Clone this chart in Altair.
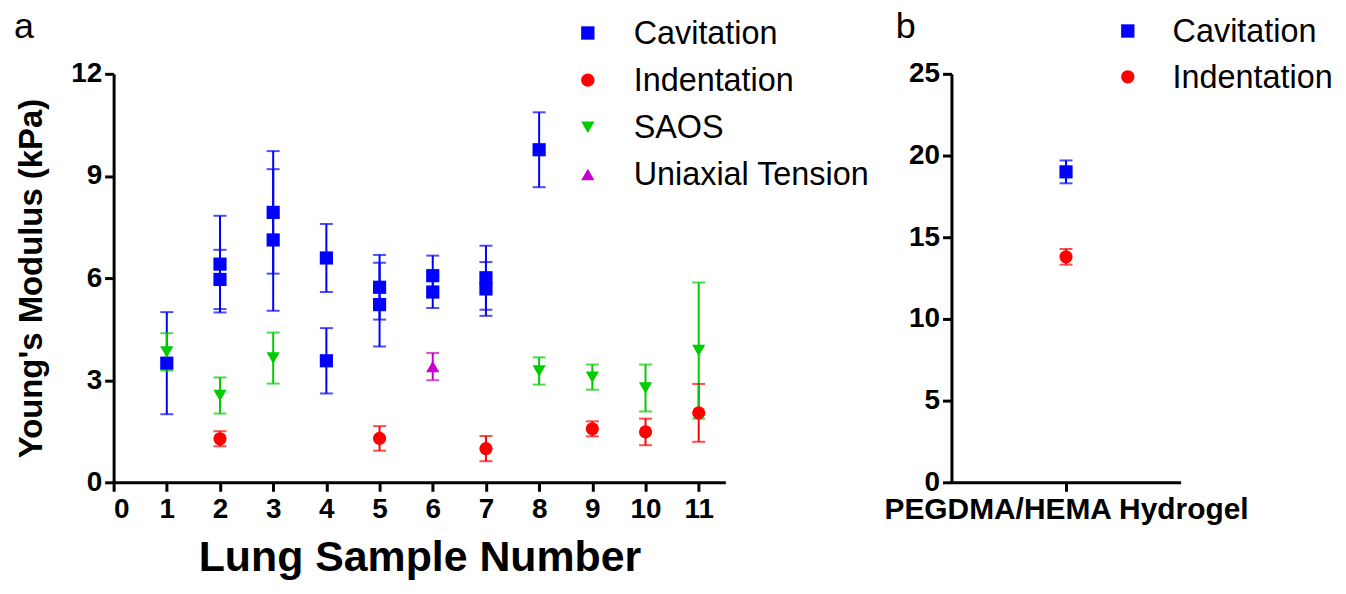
import altair as alt
import pandas as pd

FONT = "Liberation Sans"

methods = ["Cavitation", "Indentation", "SAOS", "Uniaxial Tension"]
colors = ["#0000FF", "#FF0000", "#00CC00", "#CC00CC"]
shapes = ["square", "circle", "triangle-down", "triangle-up"]

# Panel a: lung samples
cav_sample = [1, 2, 2, 3, 3, 4, 4, 5, 5, 6, 6, 7, 7, 8]
cav_mean = [3.5, 6.41, 5.96, 7.93, 7.12, 6.59, 3.57, 5.73, 5.22, 6.07, 5.59, 6.01, 5.68, 9.77]
cav_err = [1.5, 1.42, 0.87, 1.8, 2.08, 1.0, 0.96, 0.95, 1.23, 0.59, 0.47, 0.94, 0.79, 1.1]

ind_sample = [2, 5, 7, 9, 10, 11]
ind_mean = [1.28, 1.29, 0.99, 1.57, 1.48, 2.04]
ind_err = [0.22, 0.36, 0.37, 0.22, 0.39, 0.85]

saos_sample = [1, 2, 3, 8, 9, 10, 11]
saos_mean = [3.83, 2.55, 3.65, 3.27, 3.09, 2.77, 3.87]
saos_err = [0.55, 0.53, 0.75, 0.4, 0.37, 0.69, 2.0]

uni_sample = [6]
uni_mean = [3.4]
uni_err = [0.4]

x_ticks_a = list(range(0, 12))
y_ticks_a = [0, 3, 6, 9, 12]

# Panel b: hydrogel
hyd_material = ["PEGDMA/HEMA Hydrogel", "PEGDMA/HEMA Hydrogel"]
hyd_method = ["Cavitation", "Indentation"]
hyd_mean = [19.0, 13.8]
hyd_err = [0.7, 0.48]
y_ticks_b = [0, 5, 10, 15, 20, 25]

rows = []
for name, ss, mm, ee in [
    ("Cavitation", cav_sample, cav_mean, cav_err),
    ("Indentation", ind_sample, ind_mean, ind_err),
    ("SAOS", saos_sample, saos_mean, saos_err),
    ("Uniaxial Tension", uni_sample, uni_mean, uni_err),
]:
    for s, m, e in zip(ss, mm, ee):
        rows.append({"sample": s, "method": name, "mean": m, "err": e})
df_a = pd.DataFrame(rows)
df_b = pd.DataFrame({"material": hyd_material, "method": hyd_method, "mean": hyd_mean, "err": hyd_err})

axis_common = dict(
    domainColor="black", domainWidth=3, tickColor="black", tickWidth=3, tickSize=9,
    labelFont=FONT, labelFontWeight="bold", labelColor="black", labelFontSize=28,
    titleFont=FONT, titleFontWeight="bold", titleColor="black", grid=False, labelLimit=0,
)


def panel(df, xenc, yscale, yaxis, meths, cols, shps, leg_sym_x, leg_lab_x, leg_y_range,
          letter, letter_x, w, h):
    base = alt.Chart(df).transform_calculate(lo="datum.mean - datum.err", hi="datum.mean + datum.err")
    cscale = alt.Scale(domain=meths, range=cols)
    sscale = alt.Scale(domain=meths, range=shps)
    strk = alt.Stroke("method:N", scale=cscale, legend=None)
    fll = alt.Fill("method:N", scale=cscale, legend=None)
    col = alt.Color("method:N", scale=cscale, legend=None)
    shp = alt.Shape("method:N", scale=sscale, legend=None)
    rule = base.mark_rule(strokeWidth=2).encode(
        x=xenc, y=alt.Y("lo:Q", scale=yscale, axis=yaxis), y2="hi:Q", stroke=strk)
    cap_lo = base.mark_tick(orient="horizontal", size=13, thickness=2).encode(
        x=xenc, y=alt.Y("lo:Q", scale=yscale, axis=yaxis), fill=fll)
    cap_hi = base.mark_tick(orient="horizontal", size=13, thickness=2).encode(
        x=xenc, y=alt.Y("hi:Q", scale=yscale, axis=yaxis), fill=fll)
    pts = base.mark_point(filled=True, size=175, opacity=1).encode(
        x=xenc, y=alt.Y("mean:Q", scale=yscale, axis=yaxis), color=col, shape=shp)
    data_layer = alt.layer(rule, cap_lo, cap_hi, pts)

    # legend drawn as marks
    ldf = pd.DataFrame({"method": meths})
    ly = alt.Y("method:N", scale=alt.Scale(type="point", domain=meths, range=leg_y_range, padding=0),
               axis=None)
    leg_pts = alt.Chart(ldf).mark_point(filled=True, size=180, opacity=1).encode(
        x=alt.value(leg_sym_x), y=ly, color=col, shape=shp)
    leg_txt = alt.Chart(ldf).mark_text(
        align="left", baseline="middle", font=FONT, fontSize=32.5, color="black", dy=1
    ).encode(x=alt.value(leg_lab_x), y=ly, text="method:N")
    leg_layer = alt.layer(leg_pts, leg_txt)

    lab = alt.Chart(pd.DataFrame({"t": [letter]})).mark_text(
        align="left", baseline="alphabetic", font=FONT, fontSize=36, color="black"
    ).encode(text="t:N", x=alt.value(letter_x), y=alt.value(-36))
    return alt.layer(data_layer, leg_layer, lab).resolve_scale(y="independent").properties(
        width=w, height=h)


# ---------- panel a ----------
xa_scale = alt.Scale(domain=[0, 11.5], nice=False, zero=False)
ya_scale = alt.Scale(domain=[0, 12], nice=False)
xa_axis = alt.Axis(values=x_ticks_a, title="Lung Sample Number", titleFontSize=43,
                   labelPadding=4, titlePadding=14, **axis_common)
ya_axis = alt.Axis(values=y_ticks_a, title="Young's Modulus (kPa)", titleFontSize=33,
                   labelPadding=3, titlePadding=22, **axis_common)
X_a = alt.X("sample:Q", scale=xa_scale, axis=xa_axis)

panel_a = panel(df_a, X_a, ya_scale, ya_axis, methods, colors, shapes,
                476, 522, [-41, 101], "a", -100, 614, 410)

# ---------- panel b ----------
xb_scale = alt.Scale(type="point", padding=0.5)
yb_scale = alt.Scale(domain=[0, 25], nice=False)
xb_axis = alt.Axis(title=None, labelAngle=0, labelPadding=3, **{**axis_common, "labelFontSize": 30})
yb_axis = alt.Axis(values=y_ticks_b, title=None, labelPadding=3, **axis_common)
X_b = alt.X("material:N", scale=xb_scale, axis=xb_axis)

panel_b = panel(df_b, X_b, yb_scale, yb_axis, methods[:2], colors[:2], shapes[:2],
                177, 222, [-43, 3], "b", -56, 230, 410)

chart = alt.hconcat(panel_a, panel_b, spacing=13).resolve_scale(
    color="independent", shape="independent", stroke="independent", fill="independent"
).properties(
    padding={"left": 6, "top": 0, "right": 5, "bottom": 5}, background="white"
).configure_view(stroke=None)

chart.save("out.html", embed_options={"renderer": "svg", "actions": False})
